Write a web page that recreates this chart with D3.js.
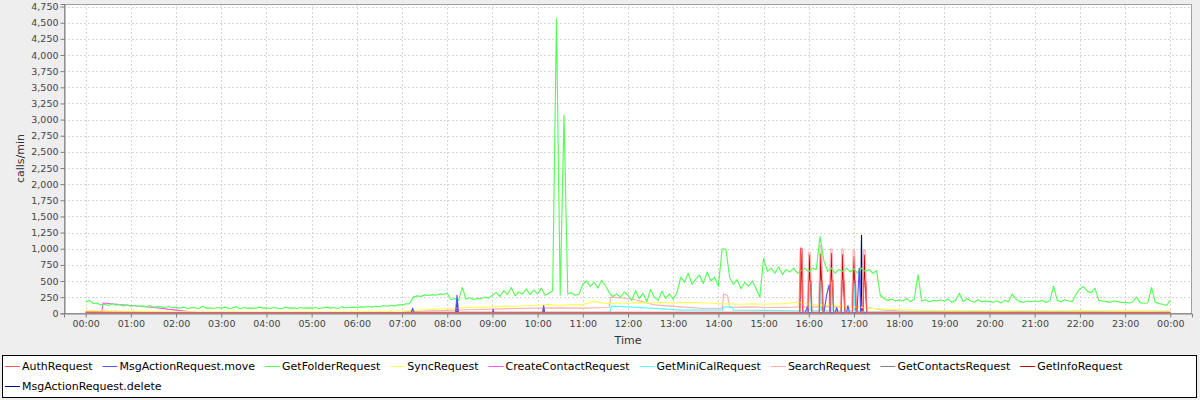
<!DOCTYPE html>
<html>
<head>
<meta charset="utf-8">
<script src="https://cdn.jsdelivr.net/npm/d3@7"></script>
<style>
  html, body { margin: 0; padding: 0; background: #eeeeee; }
  svg { display: block; font-family: "DejaVu Sans", sans-serif; }
</style>
</head>
<body>
<div id="chart"></div>
<script>
// hour ticks along the x axis
const hourTicks = d3.range(0, 25);
const tickLabel = h => String(h % 24).padStart(2, "0") + ":00";
const yTicks = d3.range(0, 4751, 250);

// GetFolderRequest, one value every 5 minutes from 00:00 to 24:00
const getFolderStep = 5;
const getFolderValues = [
  175, 200, 150, 160, 130, 140, 120, 150, 125, 135, 115, 130,
  110, 125, 105, 115, 100, 120, 95, 105, 100, 90, 105, 85,
  90, 80, 95, 75, 85, 90, 70, 110, 80, 85, 75, 90,
  80, 95, 75, 85, 100, 70, 90, 80, 85, 75, 95, 80,
  85, 75, 90, 80, 70, 95, 80, 85, 75, 90, 80, 85,
  80, 90, 75, 85, 95, 80, 90, 75, 100, 85, 90, 95,
  90, 100, 95, 105, 95, 110, 100, 120, 110, 125, 115, 130,
  130, 145, 150, 250, 270, 260, 285, 275, 290, 280, 300, 295,
  310, 210, 230, 200, 400, 220, 240, 215, 230, 225, 250, 235,
  280, 320, 260, 350, 290, 400, 270, 330, 300, 380, 290, 360,
  300, 390, 280, 310, 350, 4560, 280, 3070, 300, 320, 280, 300,
  450, 500, 420, 480, 390, 510, 430, 320, 260, 300, 250, 330,
  280, 200, 350, 230, 310, 180, 370, 250, 200, 340, 230, 300,
  220, 320, 560, 480, 620, 450, 530, 590, 460, 640, 500, 560,
  420, 1000, 990, 550, 450, 520, 380, 480, 420, 500, 380, 250,
  850, 650, 700, 620, 720, 600, 680, 640, 700, 620, 660, 700,
  640, 700, 680, 1190, 820, 650, 700, 620, 680, 650, 700, 640,
  690, 620, 700, 650, 680, 620, 660, 280, 230, 200, 220, 190,
  210, 190, 230, 180, 220, 600, 190, 210, 180, 200, 190, 210,
  190, 220, 170, 200, 310, 180, 230, 190, 170, 210, 180, 190,
  180, 170, 190, 160, 200, 180, 300, 220, 180, 170, 190, 180,
  190, 180, 200, 170, 190, 420, 200, 180, 210, 190, 180, 300,
  380, 410, 340, 320, 390, 200, 190, 180, 170, 190, 180, 170,
  170, 160, 175, 250, 165, 155, 160, 400, 170, 150, 140, 120,
  200
];

// the other series as [time, calls/min] pairs
const authRequest = [
  ["00:00", 15], ["02:00", 12], ["07:00", 12], ["07:30", 15], ["12:00", 15], ["15:48", 15],
  ["15:49", 1000], ["15:51", 1000], ["15:52", 15],
  ["15:59", 15], ["16:00", 500], ["16:03", 500], ["16:04", 15],
  ["16:14", 15], ["16:15", 500], ["16:18", 500], ["16:19", 15],
  ["16:28", 15], ["16:29", 510], ["16:32", 510], ["16:33", 15],
  ["16:43", 15], ["16:44", 500], ["16:47", 500], ["16:48", 15],
  ["16:58", 15], ["16:59", 500], ["17:02", 500], ["17:03", 15],
  ["17:12", 15], ["17:13", 490], ["17:16", 490], ["17:17", 15],
  ["24:00", 12]
];
const msgMove = [
  ["00:00", 5], ["07:12", 5], ["07:14", 80], ["07:16", 5], ["08:11", 5], ["08:13", 280], ["08:15", 5],
  ["09:00", 5], ["09:01", 60], ["09:02", 5], ["10:07", 5], ["10:08", 120], ["10:09", 5],
  ["15:55", 5], ["15:58", 100], ["16:00", 5], ["16:20", 5], ["16:24", 300], ["16:27", 440], ["16:29", 5],
  ["16:35", 5], ["16:37", 90], ["16:39", 5], ["16:50", 5], ["16:52", 120], ["16:54", 5],
  ["17:04", 5], ["17:07", 700], ["17:09", 5], ["24:00", 5]
];
const syncRequest = [
  ["00:00", 45], ["00:15", 40], ["00:30", 38], ["00:45", 35], ["01:00", 32], ["01:15", 30], ["01:30", 28], ["01:45", 25],
  ["02:00", 22], ["02:15", 22], ["02:30", 20], ["02:45", 20], ["03:00", 20], ["03:15", 22], ["03:30", 18], ["03:45", 20],
  ["04:00", 20], ["04:15", 18], ["04:30", 20], ["04:45", 22], ["05:00", 22], ["05:15", 20], ["05:30", 24], ["05:45", 22],
  ["06:00", 25], ["06:15", 25], ["06:30", 28], ["06:45", 30], ["07:00", 35], ["07:15", 45], ["07:30", 55], ["07:45", 65],
  ["08:00", 75], ["08:15", 85], ["08:30", 90], ["08:45", 95], ["09:00", 100], ["09:15", 110], ["09:30", 105], ["09:45", 120],
  ["10:00", 125], ["10:15", 135], ["10:30", 125], ["10:45", 135], ["11:00", 135], ["11:15", 185], ["11:30", 150], ["11:45", 160],
  ["12:00", 155], ["12:15", 165], ["12:30", 160], ["12:45", 170], ["13:00", 160], ["13:15", 170], ["13:30", 165], ["13:45", 160],
  ["14:00", 150], ["14:15", 145], ["14:30", 140], ["14:45", 145], ["15:00", 140], ["15:15", 145], ["15:30", 150], ["15:45", 175],
  ["16:00", 140], ["16:15", 130], ["16:30", 120], ["16:45", 110], ["17:00", 100], ["17:15", 85], ["17:30", 70], ["17:45", 60],
  ["18:00", 55], ["18:15", 50], ["18:30", 45], ["18:45", 45], ["19:00", 40], ["19:15", 45], ["19:30", 40], ["19:45", 42],
  ["20:00", 40], ["20:15", 38], ["20:30", 42], ["20:45", 40], ["21:00", 40], ["21:15", 38], ["21:30", 40], ["21:45", 42],
  ["22:00", 45], ["22:15", 42], ["22:30", 40], ["22:45", 38], ["23:00", 40], ["23:15", 38], ["23:30", 35], ["23:45", 40],
  ["24:00", 40]
];
const createContact = [
  ["00:00", 0], ["00:21", 0], ["00:23", 160], ["01:00", 120], ["01:30", 90], ["02:00", 50], ["02:28", 10], ["02:30", 0],
  ["24:00", 0]
];
const getMiniCal = [
  ["00:00", 10], ["11:36", 15], ["11:38", 110], ["12:00", 100], ["12:30", 80], ["13:10", 50], ["14:05", 50],
  ["14:07", 100], ["14:18", 100], ["14:20", 50], ["15:00", 45], ["15:45", 40],
  ["15:59", 40], ["16:01", 480], ["16:02", 40],
  ["16:15", 40], ["16:16", 490], ["16:17", 40],
  ["16:29", 40], ["16:30", 480], ["16:31", 40],
  ["16:59", 40], ["17:00", 470], ["17:01", 40],
  ["17:20", 20], ["24:00", 15]
];
const searchRequest = [
  ["00:00", 25], ["01:00", 20], ["03:00", 15], ["06:00", 15], ["07:00", 20], ["07:30", 35], ["08:00", 45], ["08:30", 55],
  ["09:00", 65], ["09:30", 75], ["10:00", 80], ["10:30", 85], ["11:00", 80], ["11:35", 90], ["11:37", 250], ["11:50", 240],
  ["12:10", 210], ["12:35", 130], ["13:10", 100], ["13:40", 75], ["14:05", 80], ["14:07", 300], ["14:12", 280], ["14:15", 90],
  ["14:40", 100], ["15:10", 90], ["15:40", 95],
  ["15:47", 100], ["15:49", 1020], ["15:51", 1000], ["15:53", 100],
  ["15:58", 100], ["16:00", 950], ["16:02", 940], ["16:04", 100],
  ["16:13", 100], ["16:15", 1050], ["16:17", 1030], ["16:19", 100],
  ["16:27", 100], ["16:29", 1000], ["16:31", 990], ["16:33", 100],
  ["16:42", 100], ["16:44", 1000], ["16:46", 980], ["16:48", 100],
  ["16:57", 100], ["16:59", 980], ["17:01", 960], ["17:03", 100],
  ["17:11", 100], ["17:13", 990], ["17:15", 970], ["17:17", 90],
  ["17:40", 50], ["18:00", 40], ["20:00", 35], ["22:00", 35], ["24:00", 30]
];
const getContacts = [["00:00", 3], ["24:00", 3]];
const getInfo = [
  ["00:00", 5], ["15:48", 5], ["15:49", 500], ["15:50", 930], ["15:51", 500], ["15:52", 5],
  ["15:59", 5], ["16:00", 480], ["16:01", 900], ["16:02", 480], ["16:04", 5],
  ["16:14", 5], ["16:15", 480], ["16:16", 920], ["16:17", 480], ["16:19", 5],
  ["16:28", 5], ["16:29", 480], ["16:30", 930], ["16:31", 480], ["16:33", 5],
  ["16:43", 5], ["16:44", 480], ["16:45", 910], ["16:46", 480], ["16:48", 5],
  ["16:58", 5], ["16:59", 480], ["17:00", 880], ["17:01", 480], ["17:03", 5],
  ["17:12", 5], ["17:13", 470], ["17:14", 900], ["17:15", 470], ["17:17", 5],
  ["24:00", 5]
];
const msgDelete = [
  ["00:00", 2], ["08:12", 2], ["08:13", 200], ["08:14", 2], ["10:07", 2], ["10:08", 100], ["10:09", 2],
  ["17:09", 2], ["17:10", 1207], ["17:11", 2], ["24:00", 2]
];

const seriesNames = [
  "AuthRequest", "MsgActionRequest.move", "GetFolderRequest", "SyncRequest", "CreateContactRequest",
  "GetMiniCalRequest", "SearchRequest", "GetContactsRequest", "GetInfoRequest", "MsgActionRequest.delete"
];
const seriesColors = [
  "#ff5555", "#5555ff", "#55ff55", "#ffff55", "#ff55ff",
  "#55ffff", "#ffafaf", "#808080", "#c00000", "#000080"
];

function toHours(t) {
  var p = t.split(":");
  return +p[0] + p[1] / 60;
}

var pairSeries = [authRequest, msgMove, null, syncRequest, createContact, getMiniCal, searchRequest, getContacts, getInfo, msgDelete];
var series = pairSeries.map(function (s, i) {
  if (i === 2) {
    return getFolderValues.map(function (v, j) { return { h: j * getFolderStep / 60, v: v }; });
  }
  return s.map(function (d) { return { h: toHours(d[0]), v: d[1] }; });
});

var width = 1200, height = 400;
var plot = { left: 64, right: 1192, top: 4, bottom: 313 };

var svg = d3.select("#chart").append("svg")
  .attr("width", width)
  .attr("height", height);

svg.append("rect").attr("width", width).attr("height", height).attr("fill", "#eeeeee");
svg.append("rect")
  .attr("x", plot.left).attr("y", plot.top)
  .attr("width", plot.right - plot.left).attr("height", plot.bottom - plot.top)
  .attr("fill", "#ffffff");

var x = d3.scaleLinear().domain([-0.48, 24.48]).range([plot.left, plot.right]);
var y = d3.scaleLinear().domain([0, 4790]).range([plot.bottom + 0.3, plot.top]);

// grid
var grid = svg.append("g").attr("stroke", "#d6d6d6").attr("stroke-dasharray", "2,2").attr("shape-rendering", "crispEdges");
grid.selectAll("line.v").data(hourTicks).enter().append("line")
  .attr("x1", d => Math.round(x(d)) + 0.5).attr("x2", d => Math.round(x(d)) + 0.5)
  .attr("y1", plot.top).attr("y2", plot.bottom);
grid.selectAll("line.h").data(yTicks.slice(1)).enter().append("line")
  .attr("x1", plot.left).attr("x2", plot.right)
  .attr("y1", d => Math.round(y(d)) + 0.5).attr("y2", d => Math.round(y(d)) + 0.5);

// lines, drawn last series first
var line = d3.line().x(d => x(d.h)).y(d => y(d.v));
var lines = svg.append("g").attr("fill", "none").attr("stroke-width", 1.15).attr("stroke-linejoin", "round");
for (var i = series.length - 1; i >= 0; i--) {
  lines.append("path").datum(series[i]).attr("stroke", seriesColors[i]).attr("d", line);
}

// outline
svg.append("rect")
  .attr("x", plot.left + 0.5).attr("y", plot.top + 0.5)
  .attr("width", plot.right - plot.left - 1).attr("height", plot.bottom - plot.top)
  .attr("fill", "none").attr("stroke", "#a0a0a0");

// axes
var yAxis = d3.axisLeft(y).tickValues(yTicks).tickSize(4).tickPadding(2).tickFormat(d3.format(","));
var gy = svg.append("g").attr("transform", "translate(" + (plot.left + 0.5) + ",0)").call(yAxis);
var xAxis = d3.axisBottom(x).tickValues(hourTicks).tickSize(4).tickPadding(3).tickFormat(tickLabel);
var gx = svg.append("g").attr("transform", "translate(0," + (plot.bottom + 0.5) + ")").call(xAxis);
[gx, gy].forEach(function (g) {
  g.select(".domain").attr("stroke", "#808080");
  g.selectAll(".tick line").attr("stroke", "#808080");
  g.selectAll("text").attr("fill", "#444444").style("font-size", "9.5px").style("font-family", "DejaVu Sans");
});

svg.append("text")
  .attr("transform", "translate(24," + ((plot.top + plot.bottom) / 2) + ") rotate(-90)")
  .attr("text-anchor", "middle")
  .style("font-size", "11px").attr("fill", "#333333")
  .text("calls/min");
svg.append("text")
  .attr("x", (plot.left + plot.right) / 2).attr("y", 344)
  .attr("text-anchor", "middle")
  .style("font-size", "11px").attr("fill", "#333333")
  .text("Time");

// legend
var legend = svg.append("g");
legend.append("rect")
  .attr("x", 2.5).attr("y", 355.5).attr("width", 1194).attr("height", 42)
  .attr("fill", "#ffffff").attr("stroke", "#000000");
var lx = 5, row = 0;
seriesNames.forEach(function (name, i) {
  if (i === 9) { lx = 5; row = 1; }
  var ly = 366 + row * 20;
  var item = legend.append("g");
  item.append("line").attr("x1", lx).attr("x2", lx + 15).attr("y1", ly + 0.5).attr("y2", ly + 0.5)
    .attr("stroke", seriesColors[i]);
  var t = item.append("text").attr("x", lx + 17).attr("y", ly + 4)
    .style("font-size", "11px").attr("fill", "#000000").text(name);
  lx += 17 + t.node().getComputedTextLength() + 10;
});
</script>
</body>
</html>
